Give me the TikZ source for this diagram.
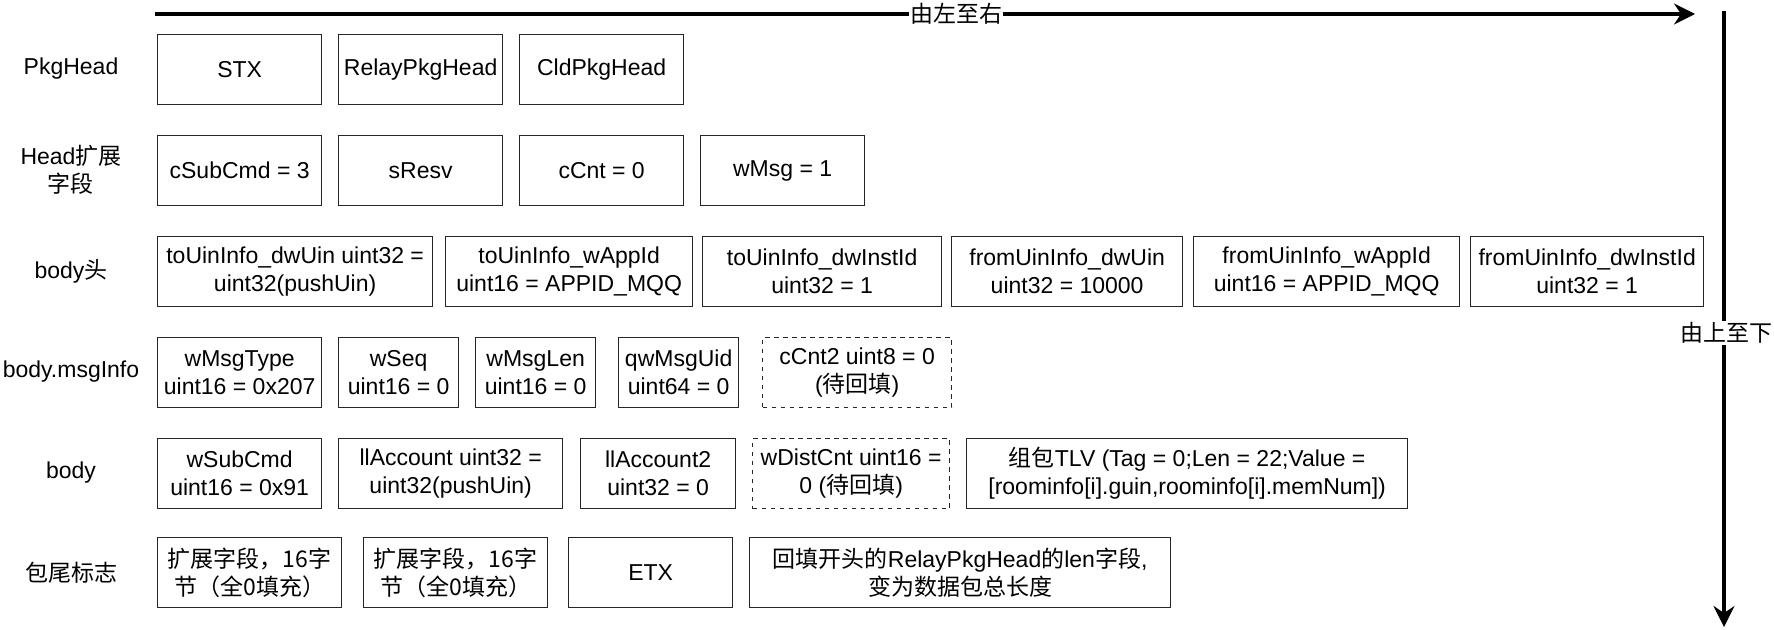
\documentclass[tikz,border=0pt]{standalone}
\usepackage{fontspec}
\setmainfont{Liberation Sans}
\newfontfamily\cjk{Noto Sans CJK SC}
\usetikzlibrary{arrows.meta}
\begin{document}
\begin{tikzpicture}[x=1bp,y=-1bp,
  txt/.style={font=\fontsize{23bp}{28bp}\selectfont, align=center, inner sep=0pt},
  fld/.style={txt, draw=black!85, line width=1.3bp, minimum height=70bp, anchor=north west},
  dfld/.style={fld, dash pattern=on 4.5bp off 4.5bp},
  rowlab/.style={txt},
  bigarrow/.style={line width=3.2bp, -{Stealth[length=21bp,width=21bp,inset=7bp]}},
  arrlab/.style={txt, fill=white, inner sep=1bp}
]
\useasboundingbox (0,0) rectangle (1774,630);
% row labels
\node[rowlab] (l1) at (71,69) {PkgHead};
\node[rowlab] (l2) at (71,170) {Head{\cjk 扩展}\\{\cjk 字段}};
\node[rowlab] (l3) at (71,271) {body{\cjk 头}};
\node[rowlab] (l4) at (71,372) {body.msgInfo};
\node[rowlab] (l5) at (71,473) {body};
\node[rowlab] (l6) at (71,573) {{\cjk 包尾标志}};
% row 1
\node[fld, minimum width=164bp] (stx) at (157,34) {STX};
\node[fld, minimum width=164bp] (rph) at (338,34) {RelayPkgHead};
\node[fld, minimum width=164bp] (cph) at (519,34) {CldPkgHead};
% row 2
\node[fld, minimum width=164bp] (csc) at (157,135) {cSubCmd = 3};
\node[fld, minimum width=164bp] (srv) at (338,135) {sResv};
\node[fld, minimum width=164bp] (ccn) at (519,135) {cCnt = 0};
\node[fld, minimum width=164bp] (wms) at (700,135) {wMsg = 1};
% row 3
\node[fld, minimum width=275bp] (tdu) at (157,236) {toUinInfo\_dwUin uint32 =\\uint32(pushUin)};
\node[fld, minimum width=247bp] (twa) at (445,236) {toUinInfo\_wAppId\\uint16 = APPID\_MQQ};
\node[fld, minimum width=239bp] (tdi) at (702,236) {toUinInfo\_dwInstId\\uint32 = 1};
\node[fld, minimum width=231bp] (fdu) at (951,236) {fromUinInfo\_dwUin\\uint32 = 10000};
\node[fld, minimum width=266bp] (fwa) at (1193,236) {fromUinInfo\_wAppId\\uint16 = APPID\_MQQ};
\node[fld, minimum width=233bp] (fdi) at (1470,236) {fromUinInfo\_dwInstId\\uint32 = 1};
% row 4
\node[fld, minimum width=164bp] (wmt) at (157,337) {wMsgType\\uint16 = 0x207};
\node[fld, minimum width=120bp] (wsq) at (338,337) {wSeq\\uint16 = 0};
\node[fld, minimum width=120bp] (wml) at (475,337) {wMsgLen\\uint16 = 0};
\node[fld, minimum width=120bp] (qmu) at (618,337) {qwMsgUid\\uint64 = 0};
\node[dfld, minimum width=189bp] (cc2) at (762,337) {cCnt2 uint8 = 0\\({\cjk 待回填})};
% row 5
\node[fld, minimum width=164bp] (wsc) at (157,438) {wSubCmd\\uint16 = 0x91};
\node[fld, minimum width=224bp] (lla) at (338,438) {llAccount uint32 =\\uint32(pushUin)};
\node[fld, minimum width=155bp] (ll2) at (580,438) {llAccount2\\uint32 = 0};
\node[dfld, minimum width=197bp] (wdc) at (752,438) {wDistCnt uint16 =\\0 ({\cjk 待回填})};
\node[fld, minimum width=441bp] (tlv) at (966,438) {{\cjk 组包}TLV (Tag = 0;Len = 22;Value =\\{[}roominfo[i].guin,roominfo[i].memNum])};
% row 6
\node[fld, minimum width=184bp] (ex1) at (157,537) {{\cjk 扩展字段，16字}\\{\cjk 节（全0填充）}};
\node[fld, minimum width=184bp] (ex2) at (363,537) {{\cjk 扩展字段，16字}\\{\cjk 节（全0填充）}};
\node[fld, minimum width=164bp] (etx) at (568,537) {ETX};
\node[fld, minimum width=421bp] (rtf) at (749,537) {{\cjk 回填开头的}RelayPkgHead{\cjk 的}len{\cjk 字段},\\{\cjk 变为数据包总长度}};
% arrows
\coordinate (hs) at (155,14);
\coordinate (he) at (1695,14);
\coordinate (vs) at (1724,11);
\coordinate (ve) at (1724,627);
\draw[bigarrow] (hs) -- (he);
\node[arrlab] (hl) at (956,14) {{\cjk 由左至右}};
\draw[bigarrow] (vs) -- (ve);
\node[arrlab] (vl) at (1726,333) {{\cjk 由上至下}};
\end{tikzpicture}
\end{document}
